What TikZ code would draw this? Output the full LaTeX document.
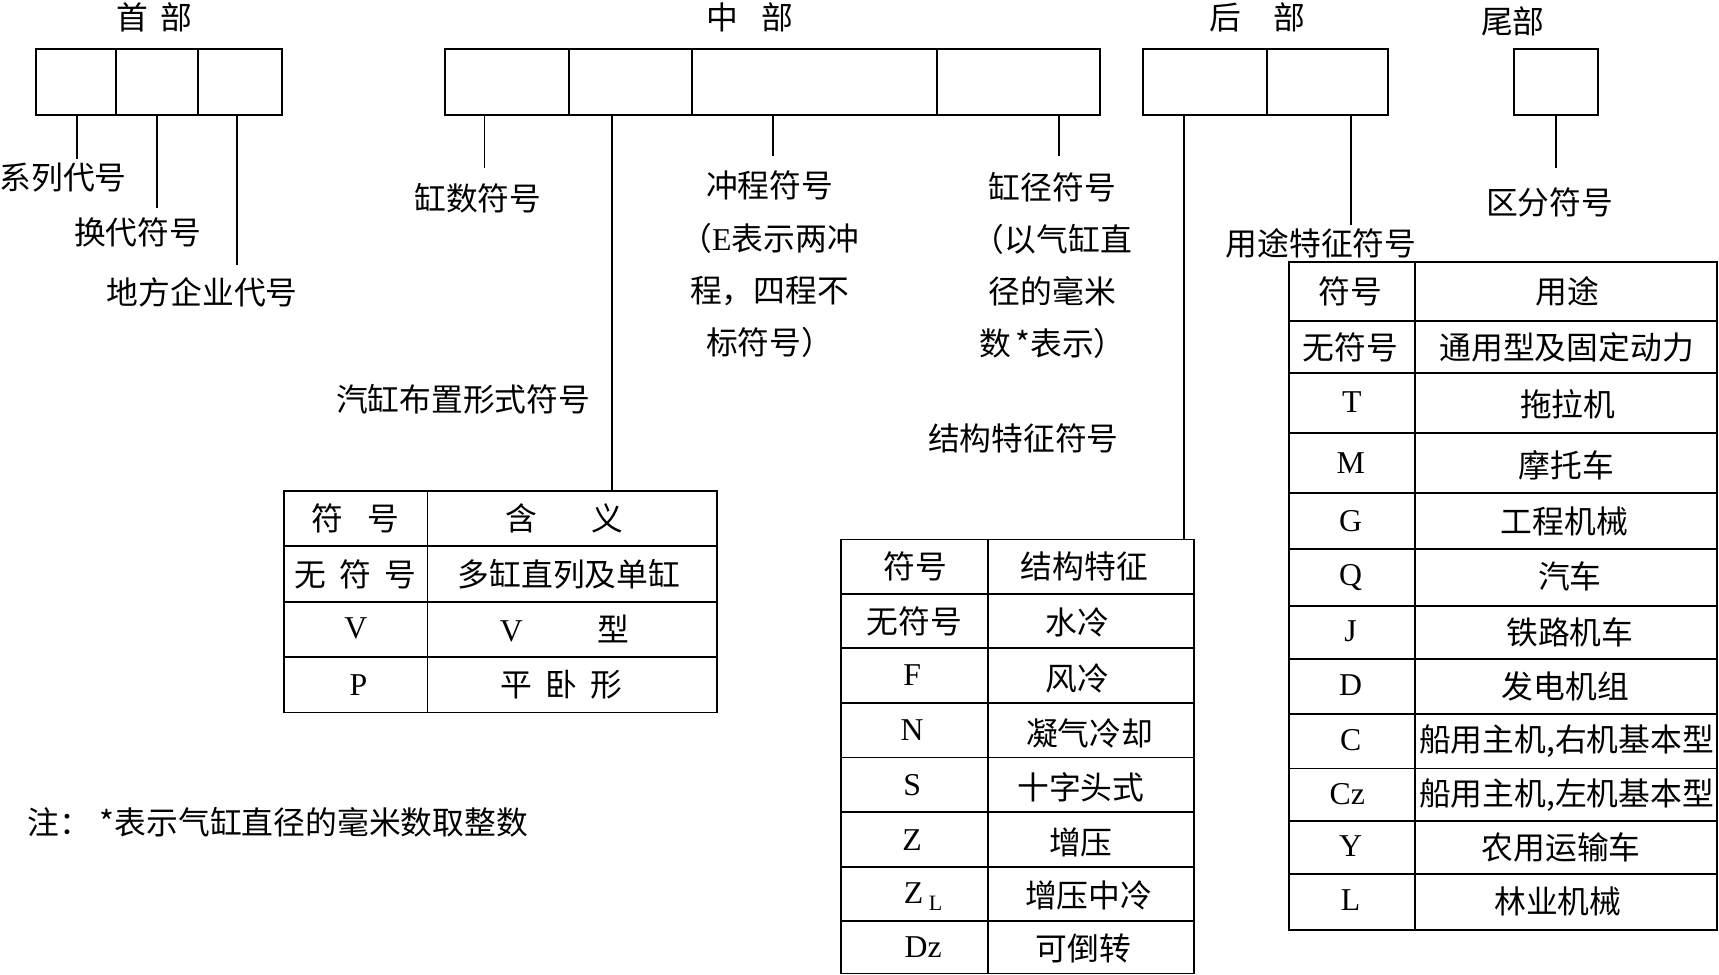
\documentclass[tikz,border=0pt]{standalone}
\usepackage{fontspec}
\setmainfont{Liberation Serif}
\newfontfamily\cjk{Noto Sans CJK SC}
\begin{document}
\begin{tikzpicture}[x=1pt,y=-1pt,
  box/.style={draw, line width=1.8pt, inner sep=0, minimum height=60},
  lead/.style={line width=1.6pt},
  cell/.style={draw, line width=1.6pt, inner sep=0},
  lbl/.style={font=\cjk\fontsize{29}{47.5}\selectfont, inner sep=0, align=center},
  sym/.style={font=\rmfamily\fontsize{29}{30}\selectfont, inner sep=0, text height=19pt, text depth=0pt},
]
\useasboundingbox[fill=white] (0,0) rectangle (1568,889);

% ---- section titles
\node[lbl] (H1) at (141,16) {首\hspace{11pt}部};
\node[lbl] (H2) at (684,16) {中\hspace{22pt}部};
\node[lbl] (H3) at (1147,16) {后\hspace{30pt}部};
\node[lbl] (H4) at (1380,19) {尾部};

% ---- code boxes
\node[box, minimum width=73]  (h1) at (69.5,75) {};
\node[box, minimum width=75]  (h2) at (143.5,75) {};
\node[box, minimum width=76]  (h3) at (219,75) {};
\node[box, minimum width=113] (m1) at (462.5,75) {};
\node[box, minimum width=112] (m2) at (575,75) {};
\node[box, minimum width=224] (m3) at (743,75) {};
\node[box, minimum width=148] (m4) at (929,75) {};
\node[box, minimum width=113] (r1) at (1099.5,75) {};
\node[box, minimum width=110] (r2) at (1211,75) {};
\node[box, minimum width=77]  (t1) at (1419.5,75) {};

% ---- labels
\node[lbl] (L1) at (57.5,162) {系列代号};
\node[lbl] (L2) at (125.5,212) {换代符号};
\node[lbl] (L3) at (184.5,267) {地方企业代号};
\node[lbl] (L4) at (436,181) {缸数符号};
\node[lbl] (L5) at (702,241) {冲程符号\\（{\rmfamily E}表示两冲\\程，四程不\\标符号）};
\node[lbl] (L6) at (960,242) {缸径符号\\（以气缸直\\径的毫米\\数\hspace{4pt}*表示）};
\node[lbl] (L7) at (422.5,364) {汽缸布置形式符号};
\node[lbl] (L8) at (933.5,400) {结构特征符号};
\node[lbl] (L9) at (1205,222) {用途特征符号};
\node[lbl] (L10) at (1413.5,185) {区分符号};

% ---- table 1 (cylinder arrangement)
\foreach \yt/\yb [count=\i] in {448/498,498/549,549/599,599/650}{
  \node[cell, minimum width=131, minimum height={\yb-\yt}] (ta\i) at (324.5,{(\yt+\yb)/2}) {};
  \node[cell, minimum width=264, minimum height={\yb-\yt}] (tb\i) at (522,{(\yt+\yb)/2}) {};
}
\node[lbl] (a1s) at (324.5,473) {符\hspace{22pt}号};
\node[lbl] (a1m) at (514.6,473) {含\hspace{49pt}义};
\node[lbl] (a2s) at (324,523.5) {无\hspace{12pt}符\hspace{12pt}号};
\node[lbl] (a2m) at (519,523.5) {多缸直列及单缸};
\node[sym] (a3s) at (324.5,573) {V};
\node[lbl] (a3m) at (515,574) {{\rmfamily V}\hspace{68pt}型};
\node[sym] (a4s) at (327,625) {P};
\node[lbl] (a4m) at (512,624.5) {平\hspace{12pt}卧\hspace{12pt}形};

% ---- table 2 (structure)
\foreach \yt/\yb [count=\i] in {492/542,542/591,591/641,641/691,691/741,741/791,791/840,840/888}{
  \node[cell, minimum width=134, minimum height={\yb-\yt}] (sa\i) at (834,{(\yt+\yb)/2}) {};
  \node[cell, minimum width=188, minimum height={\yb-\yt}] (sb\i) at (995,{(\yt+\yb)/2}) {};
}
\node[lbl] (b1s) at (835,517) {符号};
\node[lbl] (b1m) at (989,517) {结构特征};
\node[lbl] (b2s) at (834,567) {无符号};
\node[lbl] (b2m) at (983,568) {水冷};
\node[sym] (b3s) at (832,616) {F};
\node[lbl] (b3m) at (983,619) {风冷};
\node[sym] (b4s) at (832,666) {N};
\node[lbl] (b4m) at (994,669) {凝气冷却};
\node[sym] (b5s) at (832,716) {S};
\node[lbl] (b5m) at (986,718) {十字头式};
\node[sym] (b6s) at (832,766) {Z};
\node[lbl] (b6m) at (986,768) {增压};
\node[sym] (b7s) at (842,815) {Z\hspace{5pt}\raisebox{-6pt}{\fontsize{20}{20}\selectfont L}};
\node[lbl] (b7m) at (993,817) {增压中冷};
\node[sym] (b8s) at (842,864) {Dz};
\node[lbl] (b8m) at (988,865) {可倒转};

% ---- table 3 (application)
\foreach \yt/\yb [count=\i] in {239/293,293/340,340/395,395/450,450/501,501/553,553/601,601/651,651/701,701/749,749/797,797/848}{
  \node[cell, minimum width=115, minimum height={\yb-\yt}] (ua\i) at (1233.5,{(\yt+\yb)/2}) {};
  \node[cell, minimum width=275, minimum height={\yb-\yt}] (ub\i) at (1428.5,{(\yt+\yb)/2}) {};
}
\node[lbl] (c1s) at (1232,266) {符号};
\node[lbl] (c1m) at (1430,266) {用途};
\node[lbl] (c2s) at (1232,316.5) {无符号};
\node[lbl] (c2m) at (1429,316.5) {通用型及固定动力};
\node[sym] (c3s) at (1233,367) {T};
\node[lbl] (c3m) at (1430,369) {拖拉机};
\node[sym] (c4s) at (1232,422) {M};
\node[lbl] (c4m) at (1429,424) {摩托车};
\node[sym] (c5s) at (1232,475) {G};
\node[lbl] (c5m) at (1427,476) {工程机械};
\node[sym] (c6s) at (1232,525) {Q};
\node[lbl] (c6m) at (1432,526) {汽车};
\node[sym] (c7s) at (1232,576) {J};
\node[lbl] (c7m) at (1432,577) {铁路机车};
\node[sym] (c8s) at (1232,625) {D};
\node[lbl] (c8m) at (1428,626) {发电机组};
\node[sym] (c9s) at (1232,675) {C};
\node[lbl] (c9m) at (1429,676) {船用主机,右机基本型};
\node[sym] (c10s) at (1229,724) {Cz};
\node[lbl] (c10m) at (1429,725) {船用主机,左机基本型};
\node[sym] (c11s) at (1232,772) {Y};
\node[lbl] (c11m) at (1424,773) {农用运输车};
\node[sym] (c12s) at (1232,821) {L};
\node[lbl] (c12m) at (1421,822) {林业机械};

% ---- note
\node[lbl, anchor=west] (note) at (25,750) {注：\hspace{8pt}*表示气缸直径的毫米数取整数};

% ---- leaders
\coordinate (e1) at (70,145);
\coordinate (e2) at (143,190);
\coordinate (e3) at (216,242);
\coordinate (e4) at (442,153);
\coordinate (x5) at (558,0);
\coordinate (e6) at (705,142);
\coordinate (e7) at (966,142);
\coordinate (x8) at (1080,0);
\coordinate (e9) at (1232,205);
\coordinate (e10) at (1419,153);
\draw[lead] (h1.south -| e1) -- (e1);
\draw[lead] (h2.south -| e2) -- (e2);
\draw[lead] (h3.south -| e3) -- (e3);
\draw[lead] (m1.south -| e4) -- (e4);
\draw[lead] (m2.south -| x5) -- (tb1.north -| x5);
\draw[lead] (m3.south -| e6) -- (e6);
\draw[lead] (m4.south -| e7) -- (e7);
\draw[lead] (r1.south -| x8) -- (sb1.north -| x8);
\draw[lead] (r2.south -| e9) -- (e9);
\draw[lead] (t1.south -| e10) -- (e10);
\end{tikzpicture}
\end{document}
